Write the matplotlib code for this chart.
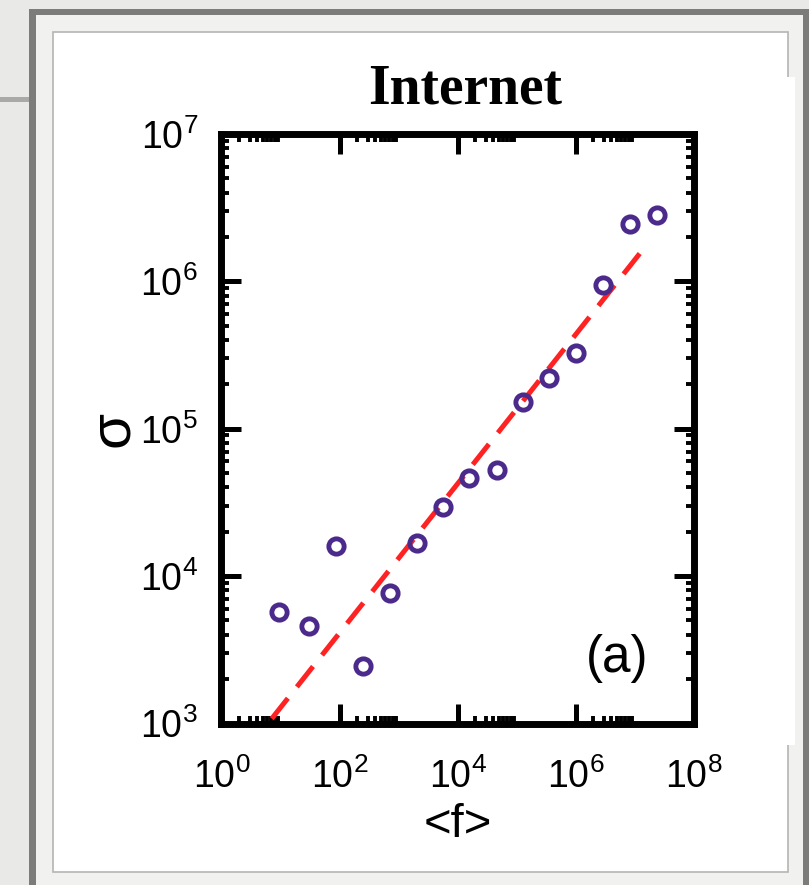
import numpy as np
import matplotlib
matplotlib.use("Agg")
import matplotlib.pyplot as plt
from matplotlib.patches import Rectangle
from matplotlib.ticker import FixedLocator, LogFormatterMathtext, NullFormatter

plt.rcParams["font.family"] = ["Liberation Sans", "DejaVu Sans"]
plt.rcParams["mathtext.fontset"] = "custom"
plt.rcParams["mathtext.rm"] = "Liberation Sans"
plt.rcParams["mathtext.it"] = "Liberation Sans:italic"

# mean flux <f> and its standard deviation sigma, Internet data
mean_flux = [9.5, 30.8, 87, 247, 718, 2030, 5740, 15800, 46100,
             1.30e5, 3.60e5, 1.02e6, 2.89e6, 8.4e6, 2.38e7]
sigma = [5680, 4580, 16000, 2450, 7710, 16900, 29600, 46600, 52500,
         1.51e5, 2.20e5, 3.28e5, 9.44e5, 2.47e6, 2.84e6]

# power-law fit sigma = A <f>^alpha
fit_prefactor = 400
fit_exponent = 0.506
fit_range = (1.0, 1.7e7)

x_major = [1e0, 1e2, 1e4, 1e6, 1e8]
y_major = [1e3, 1e4, 1e5, 1e6, 1e7]

W, H = 809, 885
fig = plt.figure(figsize=(W / 100, H / 100), dpi=100)
fig.patch.set_facecolor("#e9e9e7")

def box(x0, y0, x1, y1, **kw):
    # rectangle given in pixel coordinates from the top-left corner
    fig.patches.append(Rectangle((x0 / W, 1 - y1 / H), (x1 - x0) / W, (y1 - y0) / H,
                                 transform=fig.transFigure, figure=fig, zorder=-5, **kw))

# window frame around the figure panel
box(29, 9, 809, 885, facecolor="#7c7c7a", edgecolor="none")
box(36, 15, 803, 885, facecolor="#f1f1ef", edgecolor="none")
box(53, 32, 788, 872, facecolor="white", edgecolor="#b4b4b2", linewidth=1.2)
box(700, 77, 795, 745, facecolor="white", edgecolor="none")
box(0, 97, 29, 102, facecolor="#a9a9a7", edgecolor="none")

ax = fig.add_axes([221.5 / W, 1 - 723.5 / H, 472 / W, 589.5 / H])
ax.set_xscale("log")
ax.set_yscale("log")

f_fit = np.logspace(np.log10(fit_range[0]), np.log10(fit_range[1]), 200)
ax.plot(f_fit, fit_prefactor * f_fit ** fit_exponent, color="#ff2222", lw=3.6,
        dashes=(5.2, 2.9), dash_capstyle="butt", zorder=2)
ax.plot(mean_flux, sigma, linestyle="none", marker="o", markersize=11,
        markerfacecolor="none", markeredgecolor="#4b2a8c", markeredgewidth=3.5, zorder=3)

ax.set_xlim(1e0, 1e8)
ax.set_ylim(1e3, 1e7)

# majors every two decades on x, minors only inside those decades
ax.xaxis.set_major_locator(FixedLocator(x_major))
ax.xaxis.set_minor_locator(FixedLocator([k * 10.0 ** d for d in (0, 2, 4, 6) for k in range(2, 10)]))
ax.yaxis.set_major_locator(FixedLocator(y_major))
ax.yaxis.set_minor_locator(FixedLocator([k * 10.0 ** d for d in (3, 4, 5, 6) for k in range(2, 10)]))
ax.xaxis.set_major_formatter(LogFormatterMathtext())
ax.yaxis.set_major_formatter(LogFormatterMathtext())
ax.xaxis.set_minor_formatter(NullFormatter())
ax.yaxis.set_minor_formatter(NullFormatter())

for s in ax.spines.values():
    s.set_linewidth(5.0)
ax.tick_params(which="both", direction="in", top=True, right=True, color="black")
ax.tick_params(which="major", length=14.5, width=3.6, labelsize=27)
ax.tick_params(which="minor", length=6.0, width=2.8)
ax.tick_params(axis="x", which="major", pad=25)
ax.tick_params(axis="y", which="major", pad=17)

ax.set_xlabel("<f>", fontsize=34, labelpad=5)
fig.text(113 / W, 1 - 429 / H, "σ", fontsize=42, rotation=90, ha="center", va="center")
fig.text(465 / W, 1 - 103 / H, "Internet", fontsize=40, fontweight="bold",
         family=["Liberation Serif", "DejaVu Serif"], ha="center", va="baseline")
ax.text(0.838, 0.111, "(a)", transform=ax.transAxes, fontsize=37, ha="center", va="center")

fig.savefig("out.png", dpi=100, facecolor=fig.get_facecolor())
